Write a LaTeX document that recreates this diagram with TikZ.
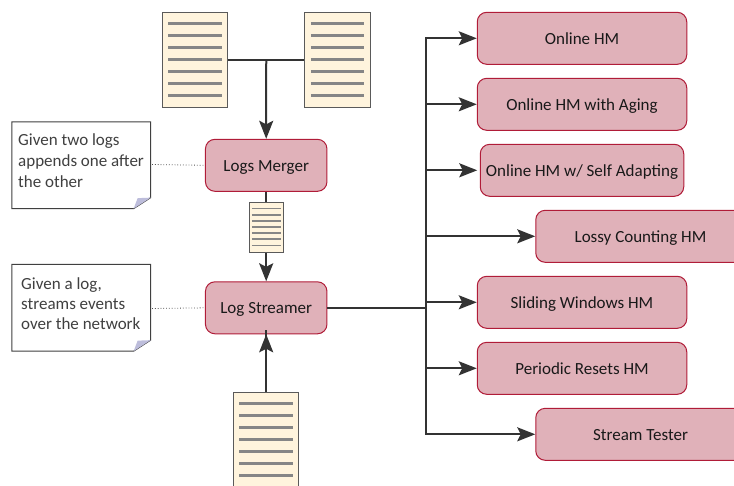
\documentclass[tikz,border=0pt]{standalone}
\usepackage{fontspec}
\setmainfont{Carlito}
\usetikzlibrary{arrows.meta,calc}
\definecolor{boxfill}{HTML}{E0B1B9}
\definecolor{boxline}{HTML}{B01C38}
\definecolor{docfill}{HTML}{FFF4DD}
\definecolor{docline}{HTML}{5A5A5A}
\definecolor{docrule}{HTML}{868686}
\definecolor{conn}{HTML}{333333}
\definecolor{fold}{HTML}{BDBDDB}
\tikzset{
  x=1pt,y=-1pt,
  procbox/.style={draw=boxline,fill=boxfill,line width=1pt,rounded corners=9.5pt,minimum height=52pt,inner sep=0pt,text height=16pt,text depth=4pt,text=black!90,font=\fontsize{17}{20}\selectfont},
  wide/.style={procbox,minimum width=209.5pt},
  mid/.style={procbox,minimum width=121.5pt},
  docbox/.style={draw=docline,fill=docfill,line width=1pt,inner sep=0pt},
  arr/.style={draw=conn,line width=2pt,-{Stealth[length=18pt,width=14pt,inset=3.5pt,fill=conn]}},
  link/.style={draw=conn,line width=2pt},
  noteframe/.style={inner sep=0pt,minimum width=138.5pt,minimum height=86.5pt},
  noteline/.style={draw=black!75,fill=white,line width=1pt,line join=miter},
  notetext/.style={inner sep=0pt,anchor=north west,align=left,text=black!75},
  dots/.style={draw=black!70,line width=.8pt,dotted},
}
\newcommand{\logdoc}[8]{% name, cx, cy, w, h, inset, step, rule width
  \node[docbox,minimum width=#4pt,minimum height=#5pt] (#1) at (#2,#3) {};
  \foreach \k in {-3,...,3}
    \draw[draw=docrule,line width=#8pt] ($(#1.west)+(#6,\k*#7)$) -- ($(#1.east)+(-#6,\k*#7)$);
}
\newcommand{\notesheet}[1]{%
  \draw[noteline] (#1.north west) -- (#1.north east) -- ($(#1.south east)+(0,-11)$) -- ($(#1.south east)+(-17,0)$) -- (#1.south west) -- cycle;
  \fill[fold] ($(#1.south east)+(-17,0)$) -- ($(#1.south east)+(0,-11)$) -- ($(#1.south east)+(-13,-10.5)$) -- cycle;
}
\begin{document}
\begin{tikzpicture}
\useasboundingbox (0,0) rectangle (734,485);
\clip (0,0) rectangle (734,485);
% documents
\logdoc{docA}{195}{59.5}{65.5}{95}{6.5}{11.9}{3}
\logdoc{docB}{337.5}{59.5}{65.5}{95}{6.5}{11.9}{3}
\logdoc{docC}{266.2}{227}{34}{50}{3.2}{6.1}{1.5}
\logdoc{docD}{266.2}{439.5}{65.5}{95}{6.5}{11.9}{3}
% processing boxes
\node[mid] (merger) at (266.2,165.3) {Logs Merger};
\node[mid] (streamer) at (266.2,307.8) {Log Streamer};
\node[wide] (online) at (582,38.3) {Online HM};
\node[wide] (aging) at (582,104.3) {Online HM with Aging};
\node[procbox,minimum width=203.5pt] (adapt) at (582,170.3) {Online HM w/ Self Adapting};
\node[wide] (lossy) at (640.5,236.3) {Lossy Counting HM};
\node[wide] (sliding) at (582,302.3) {Sliding Windows HM};
\node[wide] (resets) at (582,368.3) {Periodic Resets HM};
\node[wide] (tester) at (640.5,434.3) {Stream Tester};
% notes
\node[noteframe] (noteA) at (81.2,165.2) {};
\notesheet{noteA}
\node[notetext,font=\fontsize{17}{21}\selectfont] (noteAtext) at (18,133.5) {Given two logs\\appends one after\\the other};
\node[noteframe] (noteB) at (81.2,307.7) {};
\notesheet{noteB}
\node[notetext,font=\fontsize{17}{20.4}\selectfont] (noteBtext) at (21,277) {Given a log,\\streams events\\over the network};
\draw[dots] (noteA.east) ++(1.5,-0.7) -- (merger.west);
\draw[dots] (noteB.east) ++(1.5,0.8) -- (streamer.west);
% connectors
\coordinate (join) at ($(docA.east)!0.5!(docB.west)$);
\draw[link] (docA.east) -- (docB.west);
\draw[arr] (join) -- (merger.north);
\draw[link] (merger.south) -- (docC.north);
\draw[arr] (docC.south) -- (streamer.north);
\draw[link] (docD.north) -- ($(streamer.south)+(0,-4.5)$);
\draw[arr] (docD.north) -- (streamer.south);
\coordinate (trunk) at (426,307.8);
\draw[link] (streamer.east) -- (trunk);
\draw[link,line cap=rect] (trunk |- online.west) -- (trunk |- tester.west);
\draw[arr] (trunk |- online.west) -- (online.west);
\draw[arr] (trunk |- aging.west) -- (aging.west);
\draw[arr] (trunk |- adapt.west) -- ([xshift=-2.5pt]adapt.west);
\draw[arr] (trunk |- lossy.west) -- (lossy.west);
\draw[arr] (trunk |- sliding.west) -- (sliding.west);
\draw[arr] (trunk |- resets.west) -- (resets.west);
\draw[arr] (trunk |- tester.west) -- (tester.west);
\end{tikzpicture}
\end{document}
